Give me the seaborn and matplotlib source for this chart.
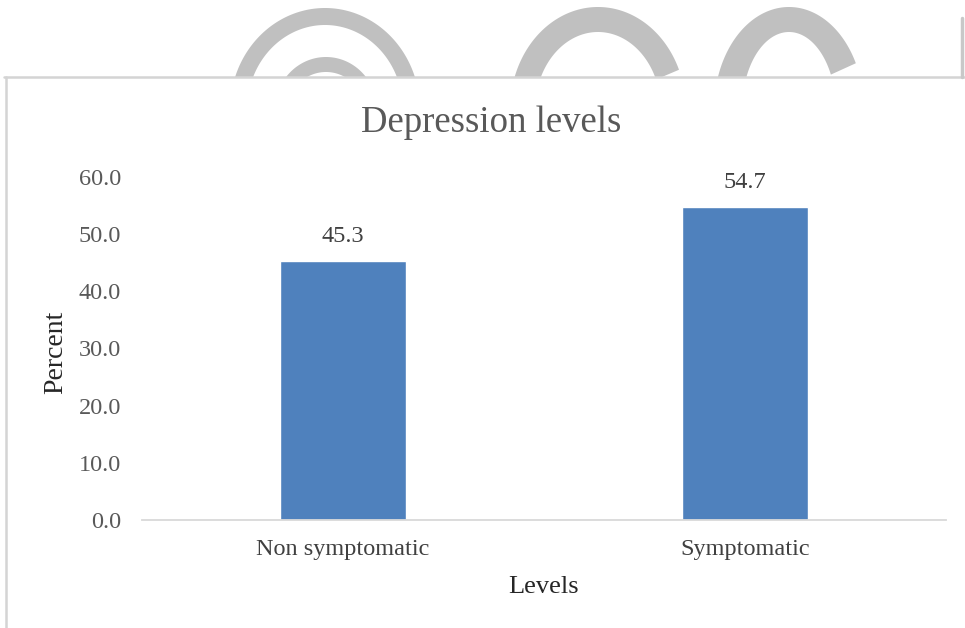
import matplotlib
matplotlib.use("Agg")
import matplotlib.pyplot as plt
from matplotlib.patches import Polygon, Rectangle
from matplotlib.lines import Line2D
import numpy as np
import pandas as pd
import seaborn as sns

# Chart data
levels = ["Non symptomatic", "Symptomatic"]
percent = [45.3, 54.7]
y_ticks = [0, 10, 20, 30, 40, 50, 60]

title_text = "Depression levels"
x_title = "Levels"
y_title = "Percent"

df = pd.DataFrame({"Levels": levels, "Percent": percent})

sns.set_theme(style="white")
plt.rcParams["font.family"] = ["Liberation Serif", "DejaVu Serif"]

W, H = 965, 628
fig = plt.figure(figsize=(W / 100, H / 100), dpi=100)
fig.patch.set_facecolor("white")

# Background layer in pixel coordinates: decorative arcs and chart frame
bg = fig.add_axes([0, 0, 1, 1], zorder=0)
bg.set_xlim(0, W)
bg.set_ylim(H, 0)
bg.axis("off")

clip = Rectangle((0, 0), W, 77, transform=bg.transData, visible=False)
bg.add_patch(clip)


def ring(cx, cy, a_out, b_out, a_in, b_in, t0, t1):
    t = np.radians(np.linspace(t0, t1, 200))
    outer = np.column_stack([cx + a_out * np.cos(t), cy - b_out * np.sin(t)])
    inner = np.column_stack([cx + a_in * np.cos(t[::-1]), cy - b_in * np.sin(t[::-1])])
    poly = Polygon(np.vstack([outer, inner]), closed=True,
                   facecolor="#c0c0c0", edgecolor="none")
    bg.add_patch(poly)
    poly.set_clip_path(clip)


ring(325, 110, 95, 102, 78, 85, -20, 200)
ring(326, 110, 51, 53, 38, 38, -20, 200)
ring(598, 110, 88, 103, 63, 78, 23, 200)
ring(789, 110, 75, 103, 47, 78, 27, 200)

bg.add_line(Line2D([4, W], [77, 77], color="#d4d4d4", lw=1.8))
bg.add_line(Line2D([6, 6], [77, H], color="#d4d4d4", lw=1.8))
bg.add_line(Line2D([962, 962], [18, 77], color="#c8c8c8", lw=2.5))

# Main plot area
ax = fig.add_axes([142 / W, 1 - 520 / H, 804 / W, 343 / H], zorder=1)
ax.patch.set_alpha(0)

sns.barplot(data=df, x="Levels", y="Percent", color="#4F81BD",
            width=0.313, saturation=1, ax=ax)

ax.set_ylim(0, 60)
ax.set_xlim(-0.5, 1.5)
ax.set_yticks(y_ticks)
ax.set_yticklabels([f"{v:.1f}" for v in y_ticks])

for s in ["top", "right", "left"]:
    ax.spines[s].set_visible(False)
ax.spines["bottom"].set_color("#d9d9d9")
ax.spines["bottom"].set_linewidth(1.3)

ax.tick_params(axis="y", length=0, pad=15, labelsize=17.5, labelcolor="#595959")
ax.tick_params(axis="x", length=0, pad=14, labelsize=17.5, labelcolor="#404040")

ax.bar_label(ax.containers[0], fmt="%.1f", padding=10, fontsize=17.5, color="#404040")

ax.set_xlabel(x_title, fontsize=19, color="#262626", va="center")
ax.xaxis.set_label_coords(0.5, -0.195)
ax.set_ylabel(y_title, fontsize=20, color="#262626", va="center")
ax.yaxis.set_label_coords(-0.107, 0.49)

fig.text(491 / W, 1 - 123 / H, title_text, fontsize=26.5, color="#595959",
         ha="center", va="center")

fig.savefig("out.png", dpi=100, facecolor="white")
